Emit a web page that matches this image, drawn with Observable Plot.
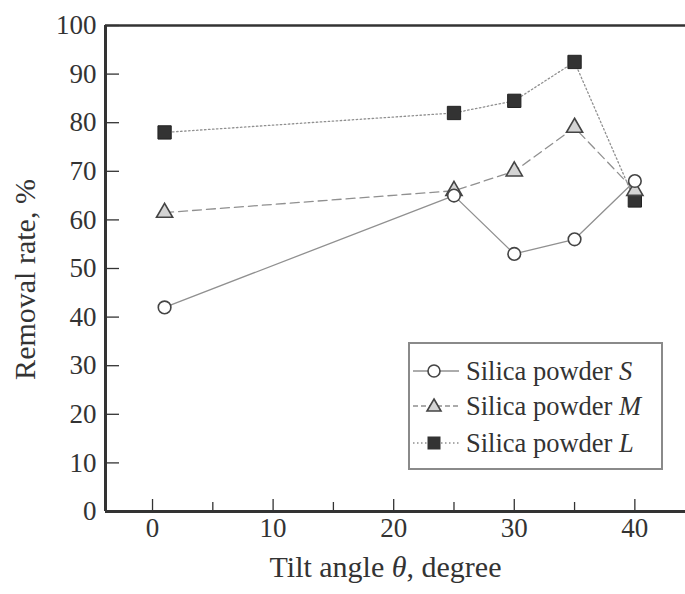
<!DOCTYPE html>
<html><head><meta charset="utf-8">
<script src="https://cdn.jsdelivr.net/npm/d3@7"></script>
<script src="https://cdn.jsdelivr.net/npm/@observablehq/plot@0.6"></script>
<style>
body{margin:0;background:#fff;}
#wrap{position:relative;width:685px;height:594px;font-family:"Liberation Serif","Times New Roman",serif;}
#legend{position:absolute;left:408px;top:342px;width:251px;height:124px;border:2px solid #8a8a8a;background:#fff;}
.row{position:absolute;left:0;height:36px;display:flex;align-items:center;font-size:26.5px;color:#333;white-space:nowrap;}
.row svg{margin-right:4px;}
</style></head><body><div id="wrap"></div>
<script>
// ---- data ----
const angles = [1, 25, 30, 35, 40];
const seriesNames = ["Silica powder S", "Silica powder M", "Silica powder L"];
const seriesKeys = ["S", "M", "L"];
const rateS = [42, 65, 53, 56, 68];
const rateM = [61.5, 66, 70, 79, 66];
const rateL = [78, 82, 84.5, 92.5, 64];
const xTicksMajor = [0, 10, 20, 30, 40];
const xTicksMinor = [5, 15, 25, 35];
const yTicks = [0, 10, 20, 30, 40, 50, 60, 70, 80, 90, 100];
const xLabel = "Tilt angle θ, degree";
const yLabel = "Removal rate, %";

const xDomain = [-3.9, 44.2];
const yDomain = [0, 100];

const rows = (vals, key) => angles.map((a, i) => ({angle: a, rate: vals[i], series: key}));
const dataS = rows(rateS, "S"), dataM = rows(rateM, "M"), dataL = rows(rateL, "L");

const lineColor = "#909090";
const axisColor = "#333";
const font = "'Liberation Serif', 'Times New Roman', serif";

const plot = Plot.plot({
  width: 685, height: 594,
  marginLeft: 105, marginTop: 25, marginBottom: 83, marginRight: 0,
  style: {fontFamily: font, background: "#fff", color: axisColor},
  x: {domain: xDomain},
  y: {domain: yDomain},
  marks: [
    // lines
    Plot.line(dataL, {x: "angle", y: "rate", stroke: lineColor, strokeWidth: 1.3, strokeDasharray: "1.5,2.5"}),
    Plot.line(dataM, {x: "angle", y: "rate", stroke: lineColor, strokeWidth: 1.3, strokeDasharray: "9,5"}),
    Plot.line(dataS, {x: "angle", y: "rate", stroke: lineColor, strokeWidth: 1.3}),
    // markers
    Plot.dot(dataL, {x: "angle", y: "rate", symbol: "square", r: 7.5, fill: "#333", stroke: "#222", strokeWidth: 1}),
    Plot.dot(dataM, {x: "angle", y: "rate", symbol: "triangle", r: 6, fill: "#d4d4d4", stroke: "#444", strokeWidth: 1.6}),
    Plot.dot(dataS, {x: "angle", y: "rate", symbol: "circle", r: 6.3, fill: "#fff", stroke: "#444", strokeWidth: 1.6}),
    // axes (labels)
    Plot.axisY({ticks: yTicks, tickSize: 0, tickPadding: 9, fontSize: 27, label: null, fill: axisColor}),
    Plot.axisY({ticks: yTicks, tickSize: -14, tickFormat: () => "", label: null, stroke: axisColor, strokeWidth: 1.3}),
    Plot.axisX({ticks: xTicksMajor, tickSize: 0, tickPadding: 6, fontSize: 27, label: null, fill: axisColor}),
    Plot.axisX({ticks: xTicksMajor, tickSize: -12, tickFormat: () => "", label: null, stroke: axisColor, strokeWidth: 1.3}),
    Plot.axisX({ticks: xTicksMinor, tickSize: -9, tickFormat: () => "", label: null, stroke: axisColor, strokeWidth: 1.3}),
    // frame
    Plot.ruleX([xDomain[0]], {stroke: axisColor, strokeWidth: 3}),
    Plot.ruleY([yDomain[0]], {stroke: axisColor, strokeWidth: 3}),
    Plot.ruleY([yDomain[1]], {stroke: axisColor, strokeWidth: 2.5}),
    // titles
    Plot.text([xLabel], {frameAnchor: "bottom", textAnchor: "middle", dx: -10, dy: 65, fontSize: 30, fill: axisColor}),
    Plot.text([yLabel], {frameAnchor: "left", textAnchor: "middle", dx: -80, dy: 11, rotate: -90, fontSize: 30, fill: axisColor})
  ]
});

document.getElementById("wrap").appendChild(plot);

// italic theta in x label
d3.select(plot).selectAll("text").filter(function() { return this.textContent === xLabel; }).each(function() {
  const t = d3.select(this);
  const [pre, post] = xLabel.split("θ");
  t.text(null);
  t.append("tspan").text(pre);
  t.append("tspan").attr("font-style", "italic").text("θ");
  t.append("tspan").text(post);
});

// legend (HTML overlay)
const legend = document.createElement("div");
legend.id = "legend";
const styles = {
  S: {dash: null, sym: '<circle cx="24" cy="18" r="6" fill="#fff" stroke="#444" stroke-width="1.6"/>'},
  M: {dash: "5,3", sym: '<path d="M24,11 L31,23 L17,23 Z" fill="#d4d4d4" stroke="#444" stroke-width="1.6"/>'},
  L: {dash: "1.5,2.5", sym: '<rect x="17.5" y="11.5" width="13" height="13" fill="#333"/>'}
};
const rowTops = [9, 44, 81];
seriesKeys.forEach((k, i) => {
  const r = document.createElement("div");
  r.className = "row";
  r.style.top = rowTops[i] + "px";
  const name = seriesNames[i];
  const base = name.slice(0, name.length - 1);
  const st = styles[k];
  r.innerHTML = `<svg width="52" height="36"><line x1="3" x2="49" y1="18" y2="18" stroke="${lineColor}" stroke-width="1.3" ${st.dash ? `stroke-dasharray="${st.dash}"` : ""}/>${st.sym}</svg><span>${base}<i>${k}</i></span>`;
  legend.appendChild(r);
});
document.getElementById("wrap").appendChild(legend);
</script>
</body></html>
